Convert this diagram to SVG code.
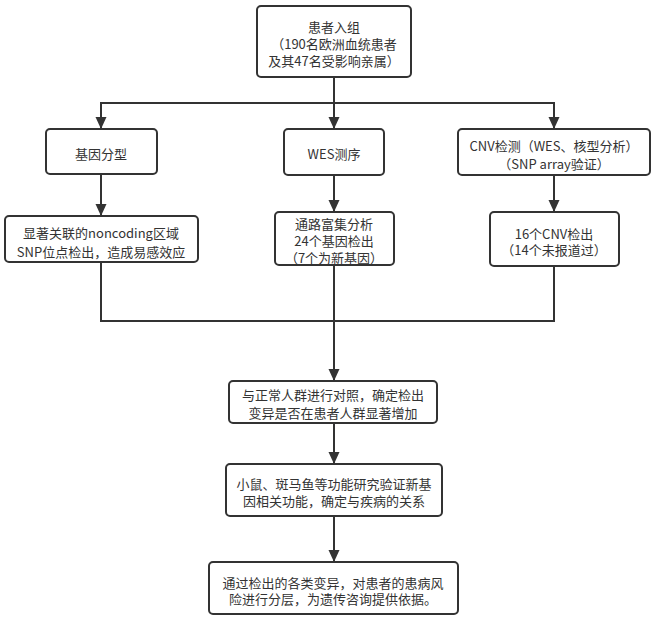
<svg xmlns="http://www.w3.org/2000/svg" width="657" height="623" viewBox="0 0 657 623">
<defs>
<style>
.box{fill:#ffffff;stroke:#333333;stroke-width:2}
.t{font-family:"Noto Sans CJK SC","Noto Sans",sans-serif;font-size:13px;fill:#333333;text-anchor:middle;dominant-baseline:central}
.ln{fill:none;stroke:#333333;stroke-width:2}
</style>
<marker id="arr" markerUnits="userSpaceOnUse" markerWidth="12" markerHeight="14" refX="11" refY="5.5" orient="auto">
<path d="M0,0 L12,5.5 L0,11 Z" fill="#333333"/>
</marker>
</defs>
<rect width="657" height="623" fill="#ffffff"/>
<g id="connectors">
<line class="ln" x1="334" y1="77" x2="334" y2="128" marker-end="url(#arr)"/>
<polyline class="ln" points="101,128 101,103 554,103 554,128" marker-end="url(#arr)"/>
<line class="ln" x1="101" y1="103" x2="101" y2="128" marker-end="url(#arr)"/>
<line class="ln" x1="101" y1="174" x2="101" y2="215" marker-end="url(#arr)"/>
<line class="ln" x1="334" y1="175" x2="334" y2="211" marker-end="url(#arr)"/>
<line class="ln" x1="554" y1="175" x2="554" y2="211" marker-end="url(#arr)"/>
<polyline class="ln" points="101,262 101,321 554,321 554,266"/>
<line class="ln" x1="334" y1="265" x2="334" y2="380" marker-end="url(#arr)"/>
<line class="ln" x1="334" y1="423" x2="334" y2="463" marker-end="url(#arr)"/>
<line class="ln" x1="334" y1="516" x2="334" y2="561" marker-end="url(#arr)"/>
</g>
<g id="n-enroll">
<rect class="box" x="257" y="6" width="154" height="71" rx="4"/>
<text class="t" x="334" y="26">患者入组</text>
<text class="t" x="334" y="43">（190名欧洲血统患者</text>
<text class="t" x="334" y="60">及其47名受影响亲属）</text>
</g>
<g id="n-genotype">
<rect class="box" x="46" y="129" width="111" height="45" rx="4"/>
<text class="t" x="101" y="153">基因分型</text>
</g>
<g id="n-wes">
<rect class="box" x="284" y="129" width="100" height="46" rx="4"/>
<text class="t" x="334" y="153">WES测序</text>
</g>
<g id="n-cnv">
<rect class="box" x="458" y="129" width="192" height="46" rx="4"/>
<text class="t" x="554" y="145">CNV检测（WES、核型分析）</text>
<text class="t" x="554" y="163">（SNP array验证）</text>
</g>
<g id="n-snp">
<rect class="box" x="5" y="216" width="193" height="46" rx="4"/>
<text class="t" x="101" y="232">显著关联的noncoding区域</text>
<text class="t" x="101" y="251">SNP位点检出，造成易感效应</text>
</g>
<g id="n-pathway">
<rect class="box" x="275" y="212" width="119" height="53" rx="4"/>
<text class="t" x="334" y="223">通路富集分析</text>
<text class="t" x="334" y="240">24个基因检出</text>
<text class="t" x="334" y="257">（7个为新基因）</text>
</g>
<g id="n-cnv16">
<rect class="box" x="490" y="212" width="129" height="54" rx="4"/>
<text class="t" x="554" y="233">16个CNV检出</text>
<text class="t" x="554" y="249">（14个未报道过）</text>
</g>
<g id="n-compare">
<rect class="box" x="229" y="381" width="208" height="42" rx="4"/>
<text class="t" x="333" y="394">与正常人群进行对照，确定检出</text>
<text class="t" x="333" y="412">变异是否在患者人群显著增加</text>
</g>
<g id="n-function">
<rect class="box" x="226" y="464" width="216" height="52" rx="4"/>
<text class="t" x="334" y="483">小鼠、斑马鱼等功能研究验证新基</text>
<text class="t" x="334" y="500">因相关功能，确定与疾病的关系</text>
</g>
<g id="n-risk">
<rect class="box" x="209" y="562" width="249" height="52" rx="4"/>
<text class="t" x="333" y="582">通过检出的各类变异，对患者的患病风</text>
<text class="t" x="333" y="598">险进行分层，为遗传咨询提供依据。</text>
</g>
</svg>
